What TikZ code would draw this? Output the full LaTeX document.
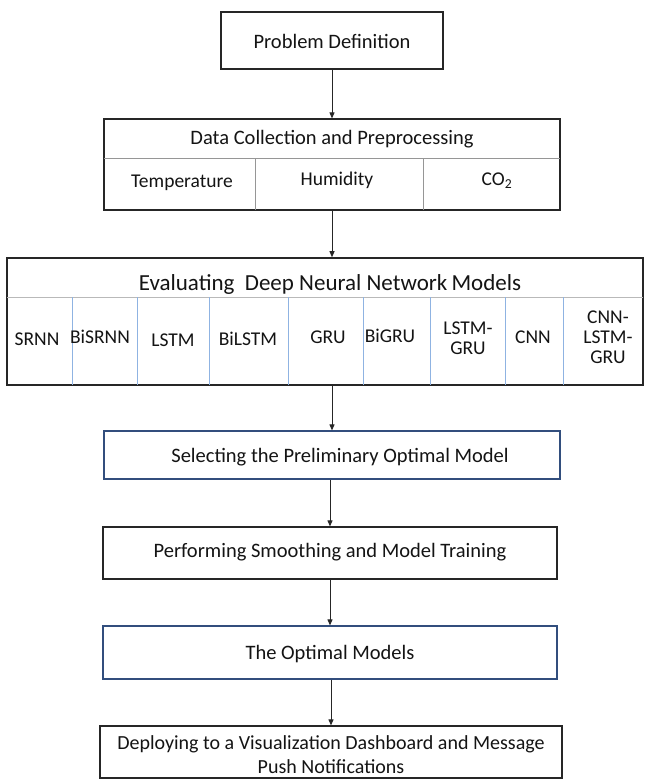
\documentclass[tikz,border=0pt]{standalone}
\usepackage{fontspec}
\setmainfont{Carlito}
\usetikzlibrary{arrows.meta}
\definecolor{boxline}{RGB}{38,38,38}
\definecolor{blueline}{RGB}{50,78,125}
\definecolor{coldiv}{RGB}{143,179,226}
\definecolor{graydiv}{RGB}{150,150,150}
\definecolor{lightdiv}{RGB}{185,185,185}
\definecolor{txt}{RGB}{20,20,20}
\tikzset{
  box/.style={draw=boxline, line width=1.2pt, rectangle, inner sep=0pt},
  bluebox/.style={draw=blueline, line width=1.2pt, rectangle, inner sep=0pt},
  evalbox/.style={draw=boxline, line width=1.6pt, rectangle, inner sep=0pt},
  lbl/.style={text=txt, inner sep=0pt, font=\fontsize{20.5}{24}\selectfont},
  biglbl/.style={text=txt, inner sep=0pt, font=\fontsize{23}{26}\selectfont},
  sublbl/.style={text=txt, inner sep=0pt, align=center, font=\fontsize{19.5}{20}\selectfont},
  arr/.style={draw=boxline, line width=0.9pt, -{Triangle[length=6pt,width=5pt]}},
  gdiv/.style={draw=graydiv, line width=0.9pt},
  cdiv/.style={draw=coldiv, line width=0.8pt},
  hdiv/.style={draw=lightdiv, line width=1pt}
}
\begin{document}
\begin{tikzpicture}[x=1pt,y=-1pt]
\useasboundingbox (0,0) rectangle (645,779);
\fill[white] (0,0) rectangle (645,779);

% Problem definition
\node[box, minimum width=222pt, minimum height=57pt] (prob) at (332,40.5) {};
\node[lbl] (probt) at (332,41) {Problem Definition};

% Data collection
\node[box, minimum width=456pt, minimum height=91pt] (data) at (332,164.5) {};
\coordinate (dl) at (104,158);
\coordinate (dr) at (560,158);
\draw[gdiv] (dl) -- (dr);
\coordinate (dv1t) at (255,158);
\coordinate (dv1b) at (255,210);
\coordinate (dv2t) at (423,158);
\coordinate (dv2b) at (423,210);
\draw[gdiv] (dv1t) -- (dv1b);
\draw[gdiv] (dv2t) -- (dv2b);
\node[lbl] (datat) at (332,139) {Data Collection and Preprocessing};
\node[sublbl] (temp) at (182,183) {Temperature};
\node[sublbl] (hum) at (337,180) {Humidity};
\node[sublbl] (co2) at (497,181) {CO\textsubscript{2}};

% Evaluating
\node[evalbox, minimum width=636pt, minimum height=127pt] (eval) at (325,321.5) {};
\coordinate (el) at (7,297);
\coordinate (er) at (643,297);
\draw[hdiv] (el) -- (er);
\foreach \xx [count=\i] in {72,137,209,288,363,430,505,563}{
  \coordinate (ct\i) at (\xx,297);
  \coordinate (cb\i) at (\xx,385);
  \draw[cdiv] (ct\i) -- (cb\i);
}
\node[biglbl] (evalt) at (330,284) {Evaluating\ \ Deep Neural Network\kern-1pt\ Models};
\node[sublbl] (m1) at (37,339) {SRNN};
\node[sublbl] (m2) at (100,337) {BiSRNN};
\node[sublbl] (m3) at (173,340) {LSTM};
\node[sublbl] (m4) at (248,339) {BiLSTM};
\node[sublbl] (m5) at (328,337) {GRU};
\node[sublbl] (m6) at (390,336) {BiGRU};
\node[sublbl] (m7) at (468,338) {LSTM-\\GRU};
\node[sublbl] (m8) at (533,337) {CNN};
\node[sublbl] (m9) at (608,337) {CNN-\\LSTM-\\GRU};

% Selecting
\node[bluebox, minimum width=456pt, minimum height=48pt] (sel) at (332,455) {};
\node[lbl] (selt) at (340,457) {Selecting the Preliminary Optimal Model};

% Performing
\node[box, minimum width=454pt, minimum height=52pt] (perf) at (330,553) {};
\node[lbl] (perft) at (330,552) {Performing Smoothing and Model Training};

% Optimal
\node[bluebox, minimum width=454pt, minimum height=53pt] (opt) at (330,652.5) {};
\node[lbl] (optt) at (330,654) {The Optimal Models};

% Deploy
\node[box, minimum width=462pt, minimum height=52pt] (dep) at (331,752) {};
\node[lbl, align=center, font=\fontsize{20}{24}\selectfont] (dept) at (331,755) {Deploying to a Visualization Dashboard and Message\\Push Notifications};

% Arrows
\draw[arr] (prob.south) -- (data.north);
\draw[arr] (data.south) -- (data.south |- eval.north);
\draw[arr] (eval.south -| sel.north) -- (sel.north);
\draw[arr] (sel.south -| perf.north) -- (perf.north);
\draw[arr] (perf.south) -- (opt.north);
\draw[arr] (opt.south -| dep.north) -- (dep.north);
\end{tikzpicture}
\end{document}
